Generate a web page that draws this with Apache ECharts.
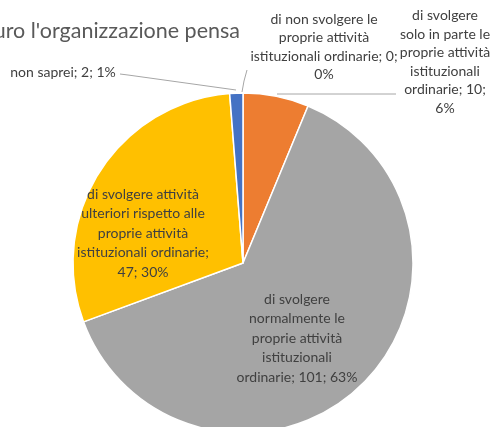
<!DOCTYPE html>
<html><head><meta charset="utf-8">
<script src="https://cdn.jsdelivr.net/npm/echarts@6/dist/echarts.min.js"></script>
<style>html,body{margin:0;padding:0;background:#fff}#c{width:494px;height:427px}</style>
</head><body><div id="c"></div>
<script>
const categories = [
  "di non svolgere le\nproprie attività\nistituzionali ordinarie; 0;",
  "di svolgere\nsolo in parte le\nproprie attività\nistituzionali\nordinarie; 10;",
  "di svolgere\nnormalmente le\nproprie attività\nistituzionali\nordinarie; 101;",
  "di svolgere attività\nulteriori rispetto alle\nproprie attività\nistituzionali ordinarie;\n47;",
  "non saprei; 2;"
];
const values = [0, 10, 101, 47, 2];
const percentLabels = ["0%", "6%", "63%", "30%", "1%"];
const colors = ["#5B9BD5", "#ED7D31", "#A5A5A5", "#FFC000", "#4472C4"];
const labelJoin = ["\n", "\n", " ", " ", " "];

// label placement (layout only)
const labelCenters = [[324, 47], [445, 62], [297, 338], [143, 233], [63, 72]];
const leaderLines = [
  [[242, 92], [244, 81], [247, 70]],
  [[277, 94], [336, 94], [396, 94]],
  null,
  null,
  [[120, 74], [128, 75], [236, 90]]
];

const chart = echarts.init(document.getElementById('c'));
chart.setOption({
  animation: false,
  title: {
    text: "In futuro l'organizzazione pensa",
    right: 249, top: 15,
    textStyle: {fontFamily: 'Lato', fontSize: 21.5, fontWeight: 'normal', color: '#595959'}
  },
  series: [{
    type: 'pie',
    center: [243, 263],
    radius: [0, 170],
    startAngle: 90,
    clockwise: true,
    avoidLabelOverlap: false,
    itemStyle: {borderColor: '#fff', borderWidth: 1.5},
    label: {
      fontFamily: 'Lato', fontSize: 14, color: '#404040', lineHeight: 18.5,
      align: 'center'
    },
    labelLine: {show: true, lineStyle: {color: '#A6A6A6', width: 1}, length: 10, length2: 10},
    labelLayout: function (p) {
      const c = labelCenters[p.dataIndex];
      const o = {x: c[0], y: c[1], align: 'center', verticalAlign: 'middle'};
      if (leaderLines[p.dataIndex]) o.labelLinePoints = leaderLines[p.dataIndex];
      return o;
    },
    data: categories.map((n, i) => ({
      name: n,
      value: values[i],
      itemStyle: {color: colors[i]},
      label: {
        position: (i === 2 || i === 3) ? 'inside' : 'outside',
        formatter: n + labelJoin[i] + percentLabels[i],
        lineHeight: (i === 2 || i === 3) ? 19.5 : 18.5
      },
      labelLine: {show: !(i === 2 || i === 3)}
    }))
  }]
});
</script></body></html>
